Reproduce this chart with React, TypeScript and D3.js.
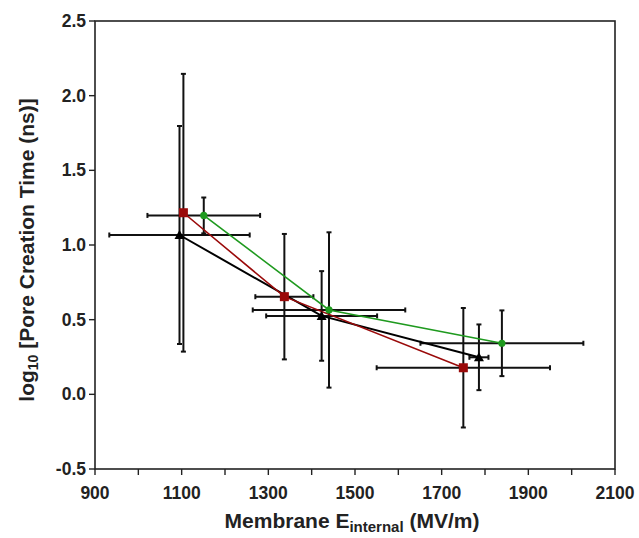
import React from "react";
import * as d3 from "d3";

const xTicks = [900, 1000, 1100, 1200, 1300, 1400, 1500, 1600, 1700, 1800, 1900, 2000, 2100];
const xLabels = [900, 1100, 1300, 1500, 1700, 1900, 2100];
const yTicks = [-0.5, 0, 0.5, 1.0, 1.5, 2.0, 2.5];

// black triangles
const blackX = [1095, 1423, 1786];
const blackY = [1.067, 0.525, 0.248];
const blackXErr = [162, 128, 22];
const blackYErr = [0.73, 0.3, 0.22];

// red squares
const redX = [1104, 1337, 1750];
const redY = [1.216, 0.654, 0.178];
const redXErr = [0, 67, 200];
const redYErr = [0.93, 0.42, 0.4];

// green circles
const greenX = [1151, 1440, 1839];
const greenY = [1.198, 0.565, 0.342];
const greenXErr = [130, 176, 188];
const greenYErr = [0.12, 0.52, 0.22];

const W = 639, H = 538;
const L = 95, R = 615, T = 21, B = 469;

export default function App() {
  const x = d3.scaleLinear().domain([900, 2100]).range([L, R]);
  const y = d3.scaleLinear().domain([-0.5, 2.5]).range([B, T]);
  const line = d3.line<[number, number]>().x(d => x(d[0])).y(d => y(d[1]));

  const series = [
    { xs: blackX, ys: blackY, xe: blackXErr, ye: blackYErr, color: "#000000", lw: 2, marker: "tri" },
    { xs: redX, ys: redY, xe: redXErr, ye: redYErr, color: "#9a0a0a", lw: 1.6, marker: "sq" },
    { xs: greenX, ys: greenY, xe: greenXErr, ye: greenYErr, color: "#1f9a1f", lw: 1.6, marker: "circ" },
  ];
  const cap = 2.5;
  const font = "'Liberation Sans', Arial, sans-serif";

  return (
    <svg width={W} height={H} style={{ position: "absolute", left: 0, top: 0, background: "#fff" }} fontFamily={font}>
      {/* error bars */}
      {series.map((s, si) => (
        <g key={"e" + si} stroke="#111" strokeWidth={2}>
          {s.xs.map((xv, i) => {
            const cx = x(xv), cy = y(s.ys[i]);
            const y1 = y(s.ys[i] + s.ye[i]), y2 = y(s.ys[i] - s.ye[i]);
            const x1 = x(xv - s.xe[i]), x2 = x(xv + s.xe[i]);
            return (
              <g key={i}>
                {s.ye[i] > 0 && (
                  <>
                    <line x1={cx} x2={cx} y1={y1} y2={y2} />
                    <line x1={cx - cap} x2={cx + cap} y1={y1} y2={y1} />
                    <line x1={cx - cap} x2={cx + cap} y1={y2} y2={y2} />
                  </>
                )}
                {s.xe[i] > 0 && (
                  <>
                    <line x1={x1} x2={x2} y1={cy} y2={cy} />
                    <line x1={x1} x2={x1} y1={cy - cap} y2={cy + cap} />
                    <line x1={x2} x2={x2} y1={cy - cap} y2={cy + cap} />
                  </>
                )}
              </g>
            );
          })}
        </g>
      ))}
      {/* lines */}
      {series.map((s, si) => (
        <path key={"l" + si} d={line(s.xs.map((v, i) => [v, s.ys[i]] as [number, number])) || ""}
          fill="none" stroke={s.color} strokeWidth={s.lw} />
      ))}
      {/* markers */}
      {series.map((s, si) => (
        <g key={"m" + si} fill={s.color}>
          {s.xs.map((xv, i) => {
            const cx = x(xv), cy = y(s.ys[i]);
            if (s.marker === "tri") return <path key={i} d={`M${cx},${cy - 5}L${cx + 5},${cy + 4}L${cx - 5},${cy + 4}Z`} />;
            if (s.marker === "sq") return <rect key={i} x={cx - 4.5} y={cy - 4.5} width={9} height={9} />;
            return <circle key={i} cx={cx} cy={cy} r={3.6} />;
          })}
        </g>
      ))}
      {/* frame */}
      <rect x={L} y={T} width={R - L} height={B - T} fill="none" stroke="#222" strokeWidth={1.6} />
      {/* y ticks */}
      {yTicks.map(t => (
        <g key={"yt" + t}>
          <line x1={L - 6} x2={L} y1={y(t)} y2={y(t)} stroke="#222" strokeWidth={1.4} />
          <text x={L - 9} y={y(t) + 6} textAnchor="end" fontSize={17.5} fontWeight="bold" fill="#222">{t.toFixed(1)}</text>
        </g>
      ))}
      {/* x ticks */}
      {xTicks.map(t => (
        <line key={"xt" + t} x1={x(t)} x2={x(t)} y1={B} y2={B + 6} stroke="#222" strokeWidth={1.4} />
      ))}
      {xLabels.map(t => (
        <text key={"xl" + t} x={x(t)} y={499} textAnchor="middle" fontSize={17.5} fontWeight="bold" fill="#222">{t}</text>
      ))}
      {/* axis titles */}
      <text x={352} y={528} textAnchor="middle" fontSize={21} fontWeight="bold" fill="#222">
        Membrane E<tspan fontSize={15} dy={4}>internal</tspan><tspan dy={-4}> (MV/m)</tspan>
      </text>
      <text transform={`translate(34,250) rotate(-90)`} textAnchor="middle" fontSize={21} fontWeight="bold" fill="#222">
        log<tspan fontSize={14} dy={4}>10</tspan><tspan dy={-4}> [Pore Creation Time (ns)]</tspan>
      </text>
    </svg>
  );
}
